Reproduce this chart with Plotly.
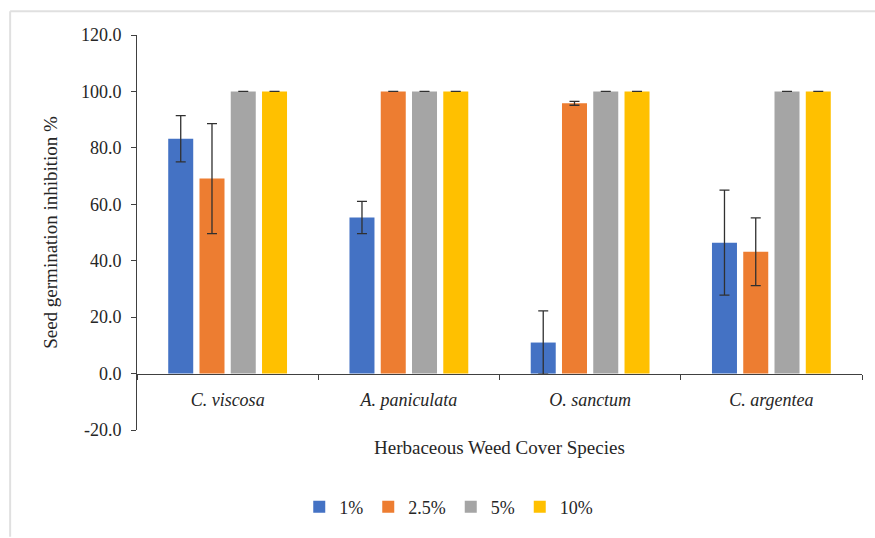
import plotly.graph_objects as go

species = ["<i>C. viscosa</i>", "<i>A. paniculata</i>", "<i>O. sanctum</i>", "<i>C. argentea</i>"]
series_names = ["1%", "2.5%", "5%", "10%"]
colors = ["#4472C4", "#ED7D31", "#A5A5A5", "#FFC000"]

v1 = [83.2, 55.3, 11.0, 46.4]
v25 = [69.1, 100.0, 95.8, 43.2]
v5 = [100.0, 100.0, 100.0, 100.0]
v10 = [100.0, 100.0, 100.0, 100.0]

e1 = [8.2, 5.7, 11.2, 18.6]
e25 = [19.5, 0.0, 0.7, 12.0]
e5 = [0.0, 0.0, 0.0, 0.0]
e10 = [0.0, 0.0, 0.0, 0.0]

y_ticks = [-20, 0, 20, 40, 60, 80, 100, 120]
y_tick_labels = ["-20.0", "0.0", "20.0", "40.0", "60.0", "80.0", "100.0", "120.0"]

values = [v1, v25, v5, v10]
errors = [e1, e25, e5, e10]

font_family = "Liberation Serif, Times New Roman, serif"
text_color = "#262626"

fig = go.Figure()
for name, vals, errs, col in zip(series_names, values, errors, colors):
    fig.add_trace(go.Bar(
        x=species, y=vals, name=name,
        marker=dict(color=col, line=dict(width=0)),
        error_y=dict(type="data", array=errs, visible=True,
                     color="#303030", thickness=1.3, width=5),
    ))

fig.update_layout(
    width=875, height=538,
    margin=dict(l=137, r=13, t=35, b=105),
    paper_bgcolor="white", plot_bgcolor="white",
    barmode="group", bargap=0.31, bargroupgap=0.2,
    font=dict(family=font_family, color=text_color, size=17),
    showlegend=True,
    legend=dict(orientation="h", x=0.43, xanchor="center", y=-0.195, yanchor="middle",
                font=dict(size=18, family=font_family, color=text_color),
                itemwidth=30, traceorder="normal"),
    xaxis=dict(
        anchor="free", position=20/140,
        showline=True, linecolor="#404040", linewidth=1,
        ticks="outside", ticklen=5, tickcolor="#404040",
        tickson="boundaries", ticklabelstandoff=10,
        tickfont=dict(size=18, family=font_family, color=text_color),
        showgrid=False, zeroline=False,
    ),
    yaxis=dict(
        range=[-20, 120], tickvals=y_ticks, ticktext=y_tick_labels,
        showline=True, linecolor="#404040", linewidth=1,
        ticks="outside", ticklen=5, tickcolor="#404040",
        ticklabelstandoff=6,
        tickfont=dict(size=18, family=font_family, color=text_color),
        showgrid=False, zeroline=False,
        title=dict(text="Seed germination inhibition %", standoff=18,
                   font=dict(size=19, family=font_family, color=text_color)),
    ),
)

fig.add_annotation(text="Herbaceous Weed Cover Species", xref="paper", yref="paper",
                   x=0.5, y=-0.045, xanchor="center", yanchor="middle", showarrow=False,
                   font=dict(size=19, family=font_family, color=text_color))

# light frame lines at top and left edges of the picture
fig.add_shape(type="line", xref="paper", yref="paper", x0=-0.175, x1=1.02, y0=1.06, y1=1.06,
              line=dict(color="#e0e0e0", width=2))
fig.add_shape(type="line", xref="paper", yref="paper", x0=-0.175, x1=-0.175, y0=-0.27, y1=1.06,
              line=dict(color="#e0e0e0", width=2))

fig.write_html("out.html")
